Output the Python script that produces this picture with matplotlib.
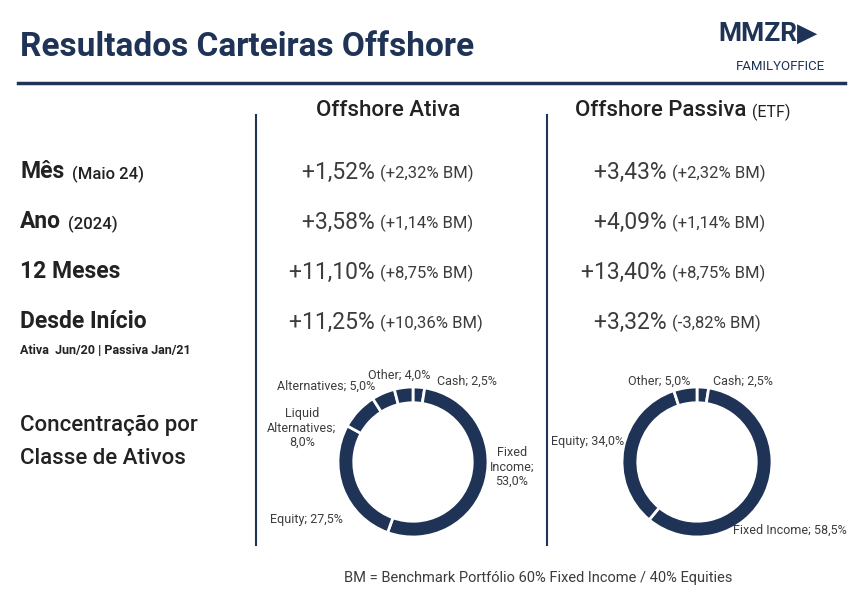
import matplotlib.pyplot as plt
from matplotlib.lines import Line2D

W, H = 863, 600
NAVY = "#1e3356"
GRAY = "#3c3c3c"
DARK = "#222222"

plt.rcParams["font.family"] = ["Roboto", "DejaVu Sans"]

columns = ["Offshore Ativa", "Offshore Passiva"]
row_labels = ["Mês", "Ano", "12 Meses", "Desde Início"]
row_notes = ["(Maio 24)", "(2024)", "", ""]
ativa_ret = ["+1,52%", "+3,58%", "+11,10%", "+11,25%"]
ativa_bm = ["(+2,32% BM)", "(+1,14% BM)", "(+8,75% BM)", "(+10,36% BM)"]
passiva_ret = ["+3,43%", "+4,09%", "+13,40%", "+3,32%"]
passiva_bm = ["(+2,32% BM)", "(+1,14% BM)", "(+8,75% BM)", "(-3,82% BM)"]

ativa_classes = ["Cash", "Fixed\nIncome", "Equity", "Liquid\nAlternatives",
                 "Alternatives", "Other"]
ativa_pct = [2.5, 53.0, 27.5, 8.0, 5.0, 4.0]
passiva_classes = ["Cash", "Fixed Income", "Equity", "Other"]
passiva_pct = [2.5, 58.5, 34.0, 5.0]


def fx(x):
    return x / W


def fy(y):
    return 1 - y / H


def txt(x, y, s, **kw):
    kw.setdefault("color", GRAY)
    kw.setdefault("va", "center")
    fig.text(fx(x), fy(y), s, **kw)


def fmt(v):
    return f"{v:.1f}".replace(".", ",") + "%"


def donut(cx, cy, r, classes, pct, label_pos):
    ax = fig.add_axes([fx(cx - r), fy(cy + r), 2 * r / W, 2 * r / H])
    ax.pie(pct, startangle=90, counterclock=False, colors=[NAVY] * len(pct),
           wedgeprops=dict(width=0.21, edgecolor="white", linewidth=2))
    ax.set_aspect("auto")
    ax.set_xlim(-1, 1)
    ax.set_ylim(-1, 1)
    for name, v, (x, y, ha) in zip(classes, pct, label_pos):
        if "\n" in name:
            s = name + ";\n" + fmt(v)
        else:
            s = f"{name}; {fmt(v)}"
        txt(x, y, s, fontsize=9, ha=ha, linespacing=1.15)


fig = plt.figure(figsize=(W / 100, H / 100), dpi=100)

txt(20, 47, "Resultados Carteiras Offshore", fontsize=24, fontweight="bold", color=NAVY)
fig.add_artist(Line2D([fx(18), fx(845)], [fy(83), fy(83)], color=NAVY, lw=2.5))
txt(768, 34, "MMZR\u25B6", fontsize=19, fontweight="bold", color=NAVY, ha="center")
txt(780, 67, "FAMILYOFFICE", fontsize=9.5, color=NAVY, ha="center")

for x in (256, 547):
    fig.add_artist(Line2D([fx(x), fx(x)], [fy(115), fy(545)], color=NAVY, lw=1.5))

txt(388, 110, columns[0], fontsize=16, fontweight="medium", color=DARK, ha="center")
fig.text(fx(752), fy(110), columns[1] + " ", fontsize=16, fontweight="medium",
         color=DARK, ha="right", va="center")
txt(752, 112, "(ETF)", fontsize=11.5, color=DARK)

ys = [172, 222, 272, 322]
for i, y in enumerate(ys):
    fig.text(fx(20), fy(y), row_labels[i], fontsize=16.5, fontweight="semibold",
             color=DARK, va="center")
    if row_notes[i]:
        off = {0: 52, 1: 48}[i]
        txt(20 + off, y + 2, row_notes[i], fontsize=12, fontweight="medium", color=DARK)
    fig.text(fx(380), fy(y), ativa_ret[i] + " ", fontsize=16.5, color=GRAY,
             ha="right", va="center")
    txt(380, y + 1, ativa_bm[i], fontsize=12)
    fig.text(fx(672), fy(y), passiva_ret[i] + " ", fontsize=16.5, color=GRAY,
             ha="right", va="center")
    txt(672, y + 1, passiva_bm[i], fontsize=12)
txt(20, 350, "Ativa  Jun/20 | Passiva Jan/21", fontsize=9, fontweight="bold",
    color=DARK)

txt(20, 425, "Concentração por", fontsize=16, fontweight="medium", color=DARK)
txt(20, 459, "Classe de Ativos", fontsize=16, fontweight="medium", color=DARK)

donut(413, 462, 75, ativa_classes, ativa_pct,
      [(437, 381, "left"), (512, 467, "center"), (270, 520, "left"),
       (302, 428, "center"), (277, 386, "left"), (368, 375, "left")])
donut(697, 462, 75, passiva_classes, passiva_pct,
      [(713, 381, "left"), (733, 530, "left"), (551, 442, "left"),
       (628, 381, "left")])

txt(538, 578, "BM = Benchmark Portfólio 60% Fixed Income / 40% Equities",
    fontsize=10.5, ha="center")

fig.savefig("out.png", dpi=100)
